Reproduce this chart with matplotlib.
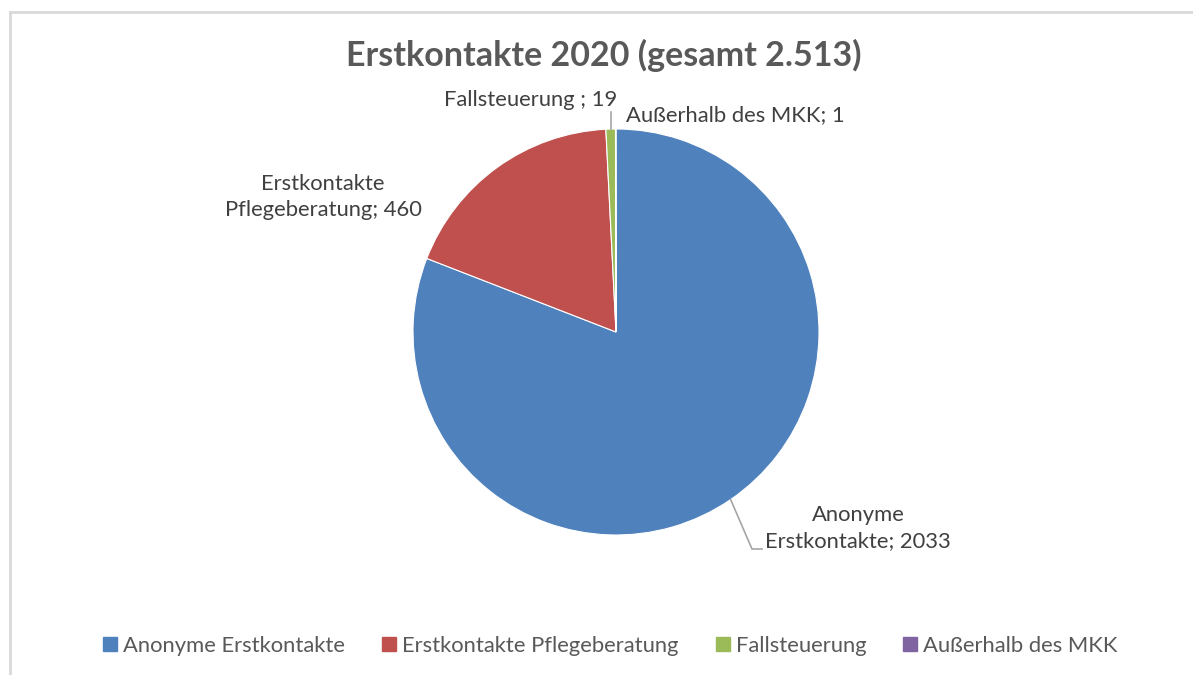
import matplotlib
matplotlib.use("Agg")
import matplotlib.pyplot as plt
from matplotlib.lines import Line2D
import numpy as np

categories = ["Anonyme Erstkontakte", "Erstkontakte Pflegeberatung", "Fallsteuerung", "Außerhalb des MKK"]
values = [2033, 460, 19, 1]
label_texts = ["Anonyme\nErstkontakte; 2033", "Erstkontakte\nPflegeberatung; 460", "Fallsteuerung ; 19", "Außerhalb des MKK; 1"]
title = "Erstkontakte 2020 (gesamt 2.513)"
colors = ["#4F81BD", "#C0504D", "#9BBB59", "#8064A2"]

plt.rcParams['font.family'] = ['Lato', 'DejaVu Sans']

W, H = 1193, 675
fig = plt.figure(figsize=(W / 100, H / 100), dpi=100)
fig.patch.set_facecolor("white")

cx, cy, r = 616, 332, 203
ax = fig.add_axes([(cx - r) / W, (H - cy - r) / H, 2 * r / W, 2 * r / H])
wedges, _ = ax.pie(values, colors=colors, startangle=90, counterclock=False, radius=1,
                   wedgeprops=dict(edgecolor="white", linewidth=0.8))
ax.set_xlim(-1, 1)
ax.set_ylim(-1, 1)
ax.set_aspect("equal")
ax.axis("off")

def px2d(px, py):
    return (px - cx) / r, (cy - py) / r

def mid_point(w):
    a = np.deg2rad((w.theta1 + w.theta2) / 2)
    return np.cos(a), np.sin(a)

label_color = "#404040"
fs = 15.8
# Anonyme
x0, y0 = mid_point(wedges[0])
x1, y1 = px2d(752, 549)
x2, y2 = px2d(762, 549)
ax.plot([x0, x1, x2], [y0, y1, y2], color="#A6A6A6", lw=1.2, clip_on=False)
tx, ty = px2d(858, 528)
ax.text(tx, ty, label_texts[0], ha="center", va="center", fontsize=fs, color=label_color,
        linespacing=1.42)
# Pflegeberatung
tx, ty = px2d(323, 197)
ax.text(tx, ty, label_texts[1], ha="center", va="center", fontsize=fs, color=label_color,
        linespacing=1.42)
# Fallsteuerung
x0, y0 = mid_point(wedges[2])
x1, y1 = px2d(0, 112)
ax.plot([x0, x0], [y0, y1], color="#A6A6A6", lw=1.2, clip_on=False)
tx, ty = px2d(531, 100)
ax.text(tx, ty, label_texts[2], ha="center", va="center", fontsize=fs, color=label_color)
# Außerhalb
tx, ty = px2d(626, 115)
ax.text(tx, ty, label_texts[3], ha="left", va="center", fontsize=fs, color=label_color)

fig.text(604 / W, 1 - 55 / H, title, ha="center", va="center", fontsize=24.5,
         fontweight="bold", color="#595959")

handles = [Line2D([], [], marker="s", linestyle="none", markersize=9.5,
                  markerfacecolor=c, markeredgecolor=c) for c in colors]
leg = fig.legend(handles, categories, loc="center", bbox_to_anchor=(609 / W, 1 - 646 / H),
                 ncol=4, frameon=False, fontsize=15.8, handletextpad=0.15, columnspacing=1.55,
                 handlelength=0.9)
for t in leg.get_texts():
    t.set_color("#595959")

# chart border (left and top edges visible)
fig.add_artist(Line2D([10 / W, 10 / W], [0, 1 - 12 / H], color="#D9D9D9", lw=2,
                      transform=fig.transFigure))
fig.add_artist(Line2D([10 / W, 1], [1 - 12 / H, 1 - 12 / H], color="#D9D9D9", lw=2,
                      transform=fig.transFigure))

fig.savefig("out.png", dpi=100, facecolor="white")
